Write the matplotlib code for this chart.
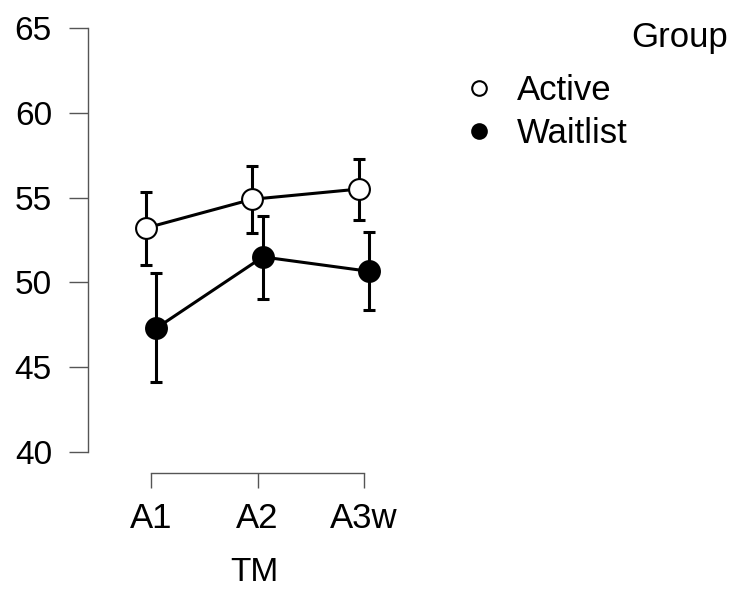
import matplotlib
matplotlib.use("Agg")
from matplotlib import pyplot as plt
import numpy as np

plt.rcParams['font.family'] = ['Liberation Sans', 'DejaVu Sans']

# data
levels = ["A1", "A2", "A3w"]
active_mean = [53.2, 54.9, 55.5]
active_lo = [51.0, 52.9, 53.7]
active_hi = [55.3, 56.85, 57.3]
wait_mean = [47.3, 51.5, 50.65]
wait_lo = [44.1, 49.0, 48.35]
wait_hi = [50.55, 53.9, 52.95]

fig = plt.figure(figsize=(7.3, 5.91), dpi=100)
ax = fig.add_axes([88 / 730, 118 / 591, 332 / 730, 453 / 591])

x = np.arange(len(levels))
dodge = 0.05

def draw(xs, mean, lo, hi, face, label):
    mean = np.array(mean)
    err = [mean - np.array(lo), np.array(hi) - mean]
    ax.errorbar(xs, mean, yerr=err, fmt='none', ecolor='black', elinewidth=2.2,
                capsize=4, capthick=2.2, zorder=2)
    ax.plot(xs, mean, color='black', lw=2.2, zorder=3)
    ax.plot(xs, mean, 'o', ms=15, mfc=face, mec='black', mew=1.5, zorder=4,
            label=label, linestyle='none')

draw(x - dodge, active_mean, active_lo, active_hi, 'white', 'Active')
draw(x + dodge, wait_mean, wait_lo, wait_hi, 'black', 'Waitlist')

ax.set_xlim(-0.592, 2.526)
ax.set_ylim(38.76, 65.47)
ax.set_xticks(x)
ax.set_xticklabels(levels, fontsize=25)
ax.set_yticks([40, 45, 50, 55, 60, 65])
ax.tick_params(axis='y', labelsize=24, length=14, width=1, color='#555555', pad=12)
ax.tick_params(axis='x', length=11, width=1, color='#555555', pad=10)
for s in ['top', 'right']:
    ax.spines[s].set_visible(False)
ax.spines['left'].set_bounds(40, 65)
ax.spines['bottom'].set_bounds(0, 2)
for s in ['left', 'bottom']:
    ax.spines[s].set_color('#555555')
    ax.spines[s].set_linewidth(1)
ax.set_xlabel("TM", fontsize=24, labelpad=16)

fig.text(728 / 730, 1 - 38 / 591, "Group", fontsize=25, ha='right', va='center')
handles, labels = ax.get_legend_handles_labels()
leg = fig.legend(handles, labels, loc='upper left', bbox_to_anchor=(465 / 730, 1 - 74 / 591),
                 frameon=False, fontsize=25, markerscale=0.7, handlelength=0.8,
                 handletextpad=0.7, labelspacing=0.3, borderpad=0, borderaxespad=0)

fig.savefig("out.png", dpi=100)
